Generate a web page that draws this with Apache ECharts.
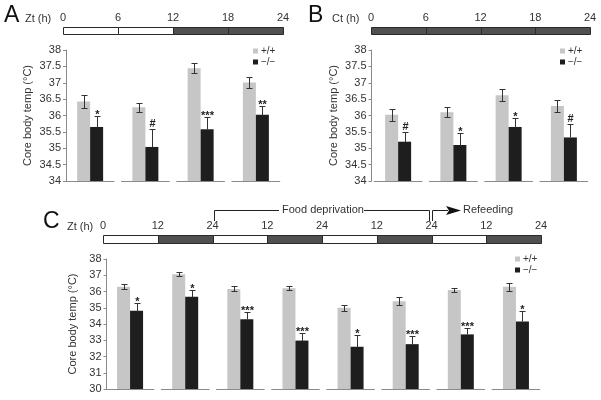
<!DOCTYPE html>
<html><head><meta charset="utf-8">
<script src="https://cdn.jsdelivr.net/npm/echarts@6/dist/echarts.min.js"></script>
<style>html,body{margin:0;padding:0;background:#fff}#c{width:601px;height:400px}</style>
</head><body><div id="c"></div>
<script>
// ---------- DATA ----------
// Panel A (Zt, light/dark)
const catsA = ['Zt0-6', 'Zt6-12', 'Zt12-18', 'Zt18-24'];
const wtA = [36.43, 36.25, 37.44, 37.01];
const wtErrA = [0.20, 0.14, 0.15, 0.18];
const koA = [35.65, 35.04, 35.58, 36.02];
const koErrA = [0.33, 0.55, 0.37, 0.28];
const sigA = ['*', '#', '***', '**'];
const segStartA = [0, 6, 12, 18];
const segEndA = [6, 12, 18, 24];
const segDarkA = [0, 0, 1, 1];

// Panel B (Ct, constant dark)
const catsB = ['Ct0-6', 'Ct6-12', 'Ct12-18', 'Ct18-24'];
const wtB = [36.02, 36.10, 36.62, 36.29];
const wtErrB = [0.19, 0.16, 0.18, 0.19];
const koB = [35.20, 35.10, 35.65, 35.33];
const koErrB = [0.31, 0.36, 0.26, 0.40];
const sigB = ['#', '*', '*', '#'];
const segStartB = [0, 6, 12, 18];
const segEndB = [6, 12, 18, 24];
const segDarkB = [1, 1, 1, 1];

// Panel C (food deprivation / refeeding)
const catsC = ['L1', 'D1', 'L2', 'D2', 'L3', 'D3', 'L4', 'D4'];
const wtC = [36.30, 37.06, 36.16, 36.20, 35.00, 35.40, 36.10, 36.30];
const wtErrC = [0.16, 0.12, 0.15, 0.12, 0.17, 0.24, 0.14, 0.24];
const koC = [34.82, 35.68, 34.30, 32.98, 32.60, 32.76, 33.36, 34.16];
const koErrC = [0.50, 0.42, 0.43, 0.47, 0.70, 0.53, 0.38, 0.65];
const sigC = ['*', '*', '***', '***', '*', '***', '***', '*'];
const segStartC = [0, 12, 24, 36, 48, 60, 72, 84];
const segEndC = [12, 24, 36, 48, 60, 72, 84, 96];
const segDarkC = [0, 1, 0, 1, 0, 1, 0, 1];
const tickLabelsC = ['0', '12', '24', '12', '24', '12', '24', '12', '24'];

const seriesNames = ['+/+', '\u2212/\u2212'];

// ---------- STYLE ----------
const FONT = '"Liberation Sans", Arial, sans-serif';
const TXT = '#333';
const AXC = '#8a8a8a';
const GRAY = '#c6c6c6';
const BLACK = '#1e1e1e';
const DARKSEG = '#505050';
const BW = 13;

function timelineSeries(idx, starts, ends, dark) {
  return {
    type: 'custom', xAxisIndex: idx, yAxisIndex: idx, silent: true,
    data: starts.map((s, i) => [s, ends[i], dark[i]]),
    renderItem: function (params, api) {
      const p0 = api.coord([api.value(0), 1]);
      const p1 = api.coord([api.value(1), 0]);
      return {
        type: 'rect',
        shape: { x: Math.round(p0[0]) + 0.5, y: Math.round(p0[1]) + 0.5, width: Math.round(p1[0] - p0[0]), height: Math.round(p1[1] - p0[1]) },
        style: { fill: api.value(2) ? DARKSEG : '#fff', stroke: '#2a2a2a', lineWidth: 1 }
      };
    }
  };
}

function barSeries(idx, name, data, color) {
  return {
    type: 'bar', name: name, xAxisIndex: idx, yAxisIndex: idx,
    data: data, barWidth: BW, barGap: '0%', itemStyle: { color: color }, silent: true
  };
}

function errSeries(idx, means, errs, off, both, sig) {
  return {
    type: 'custom', xAxisIndex: idx, yAxisIndex: idx, silent: true, z: 5,
    data: means.map((v, i) => [i, v, errs[i]]),
    renderItem: function (params, api) {
      const i = api.value(0), v = api.value(1), e = api.value(2);
      const x = Math.round(api.coord([i, v])[0] + off) + 0.5;
      const top = Math.round(api.coord([i, v + e])[1]) + 0.5;
      const bot = Math.round(api.coord([i, both ? v - e : v])[1]) + 0.5;
      const ls = { stroke: '#333', lineWidth: 1 };
      const ch = [
        { type: 'line', shape: { x1: x, y1: top, x2: x, y2: bot }, style: ls },
        { type: 'line', shape: { x1: x - 3, y1: top, x2: x + 3, y2: top }, style: ls }
      ];
      if (both) ch.push({ type: 'line', shape: { x1: x - 3, y1: bot, x2: x + 3, y2: bot }, style: ls });
      if (sig) {
        const s = sig[i];
        const isStar = s.indexOf('*') >= 0;
        ch.push({
          type: 'text',
          style: { text: s, x: x, y: top + (isStar ? 4 : 0), align: 'center', verticalAlign: 'bottom',
                   fontSize: 11, fontWeight: 'bold', fontFamily: FONT, fill: '#222' }
        });
      }
      return { type: 'group', children: ch };
    }
  };
}

function baseSeries(idx, cats) {
  return {
    type: 'custom', xAxisIndex: idx, yAxisIndex: idx, silent: true, z: 4,
    data: cats.map((c, i) => [i]),
    renderItem: function (params, api) {
      const cs = params.coordSys;
      const cx = api.coord([api.value(0), 0])[0];
      const w = api.size([1, 0])[0] * 0.88;
      const y = Math.round(cs.y + cs.height) + 0.5;
      return { type: 'line', shape: { x1: cx - w / 2, y1: y, x2: cx + w / 2, y2: y }, style: { stroke: AXC, lineWidth: 1 } };
    }
  };
}

function tlX(idx, max, interval, fmt) {
  return {
    type: 'value', gridIndex: idx, min: 0, max: max, interval: interval, position: 'top',
    axisLine: { show: false }, axisTick: { show: false }, splitLine: { show: false },
    axisLabel: { show: true, margin: 4, fontSize: 11, color: TXT, fontFamily: FONT,
                 showMinLabel: true, showMaxLabel: true, formatter: fmt }
  };
}
function tlY(idx) {
  return { type: 'value', gridIndex: idx, min: 0, max: 1, show: false };
}
function catX(idx, cats) {
  return {
    type: 'category', gridIndex: idx, data: cats,
    axisLine: { show: false }, axisTick: { show: false }, axisLabel: { show: false }, splitLine: { show: false }
  };
}
function valY(idx, min, max, interval, offset, nameGap) {
  return {
    type: 'value', gridIndex: idx, min: min, max: max, interval: interval, offset: offset,
    name: 'Core body temp (\u00B0C)', nameLocation: 'middle', nameGap: nameGap,
    nameTextStyle: { fontSize: 11, color: TXT, fontFamily: FONT },
    axisLine: { show: true, lineStyle: { color: AXC, width: 1 } },
    axisTick: { show: true, length: 3, lineStyle: { color: AXC } },
    axisLabel: { margin: 5, fontSize: 11, color: TXT, fontFamily: FONT },
    splitLine: { show: false }
  };
}
function legendAt(left, top) {
  return {
    left: left, top: top, orient: 'vertical', icon: 'rect', itemWidth: 5, itemHeight: 5, itemGap: 1,
    padding: 0, selectedMode: false,
    textStyle: { fontSize: 10, lineHeight: 10, color: TXT, fontFamily: FONT, padding: [0, 0, 0, -2] },
    data: seriesNames
  };
}

const g = { outerBoundsMode: 'none', containLabel: false };
const option = {
  animation: false,
  textStyle: { fontFamily: FONT },
  grid: [
    Object.assign({ left: 63, top: 27, width: 220, height: 7 }, g),
    Object.assign({ left: 62.5, top: 50, width: 221, height: 131 }, g),
    Object.assign({ left: 371, top: 27, width: 219, height: 7 }, g),
    Object.assign({ left: 370.5, top: 50, width: 221, height: 131 }, g),
    Object.assign({ left: 103, top: 235, width: 438, height: 8 }, g),
    Object.assign({ left: 102.5, top: 259, width: 441, height: 130 }, g)
  ],
  xAxis: [
    tlX(0, 24, 6), catX(1, catsA),
    tlX(2, 24, 6), catX(3, catsB),
    tlX(4, 96, 12, function (v, i) { return tickLabelsC[i]; }), catX(5, catsC)
  ],
  yAxis: [
    tlY(0), valY(1, 34, 38, 0.5, -3.5, 33),
    tlY(2), valY(3, 34, 38, 0.5, -1, 32),
    tlY(4), valY(5, 30, 38, 1, -4, 28)
  ],
  legend: [legendAt(253, 46), legendAt(560, 46), legendAt(515, 254)],
  series: [
    timelineSeries(0, segStartA, segEndA, segDarkA),
    timelineSeries(2, segStartB, segEndB, segDarkB),
    timelineSeries(4, segStartC, segEndC, segDarkC),
    barSeries(1, seriesNames[0], wtA, GRAY), barSeries(1, seriesNames[1], koA, BLACK),
    barSeries(3, seriesNames[0], wtB, GRAY), barSeries(3, seriesNames[1], koB, BLACK),
    barSeries(5, seriesNames[0], wtC, GRAY), barSeries(5, seriesNames[1], koC, BLACK),
    baseSeries(1, catsA), baseSeries(3, catsB), baseSeries(5, catsC),
    errSeries(1, wtA, wtErrA, -BW / 2, true, null), errSeries(1, koA, koErrA, BW / 2, false, sigA),
    errSeries(3, wtB, wtErrB, -BW / 2, true, null), errSeries(3, koB, koErrB, BW / 2, false, sigB),
    errSeries(5, wtC, wtErrC, -BW / 2, true, null), errSeries(5, koC, koErrC, BW / 2, false, sigC)
  ],
  graphic: [
    { type: 'text', left: 4, top: 4, style: { text: 'A', fontSize: 23, fill: '#111', fontFamily: FONT } },
    { type: 'text', left: 308, top: 4, style: { text: 'B', fontSize: 23, fill: '#111', fontFamily: FONT } },
    { type: 'text', left: 43, top: 210, style: { text: 'C', fontSize: 23, fill: '#111', fontFamily: FONT } },
    { type: 'text', left: 25, top: 13, style: { text: 'Zt (h)', fontSize: 11, fill: TXT, fontFamily: FONT } },
    { type: 'text', left: 332, top: 13, style: { text: 'Ct (h)', fontSize: 11, fill: TXT, fontFamily: FONT } },
    { type: 'text', left: 67, top: 221, style: { text: 'Zt (h)', fontSize: 11, fill: TXT, fontFamily: FONT } },
    // Food deprivation bracket
    { type: 'polyline', shape: { points: [[214.5, 221], [214.5, 210.5], [279, 210.5]] }, style: { stroke: '#222', lineWidth: 1, fill: null } },
    { type: 'text', left: 282, top: 204, style: { text: 'Food deprivation', fontSize: 11, fill: TXT, fontFamily: FONT } },
    { type: 'polyline', shape: { points: [[364, 210.5], [429.5, 210.5], [429.5, 221]] }, style: { stroke: '#222', lineWidth: 1, fill: null } },
    { type: 'polyline', shape: { points: [[432.5, 221], [432.5, 210.5], [448, 210.5]] }, style: { stroke: '#222', lineWidth: 1, fill: null } },
    { type: 'polygon', shape: { points: [[446, 206], [461, 210.5], [446, 215], [449, 210.5]] }, style: { fill: '#111' } },
    { type: 'text', left: 463, top: 204, style: { text: 'Refeeding', fontSize: 11, fill: TXT, fontFamily: FONT } }
  ]
};
const chart = echarts.init(document.getElementById('c'), null, { renderer: 'canvas' });
chart.setOption(option);
</script>
</body></html>
